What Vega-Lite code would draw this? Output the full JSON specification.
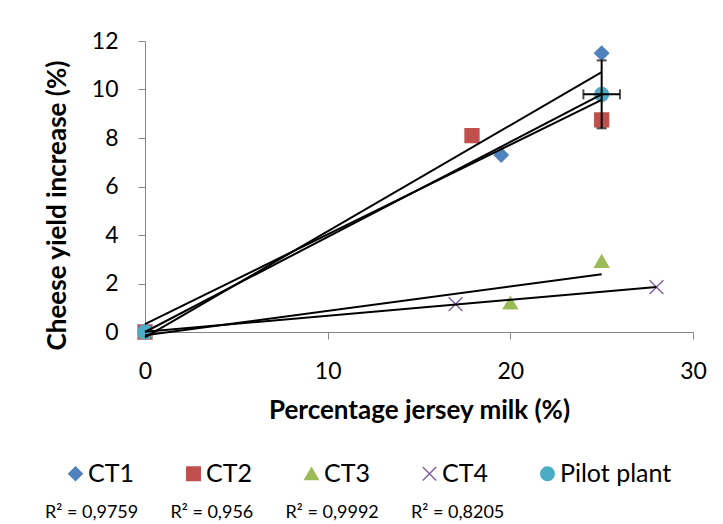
{
  "$schema": "https://vega.github.io/schema/vega-lite/v6.json",
  "width": 548,
  "height": 291,
  "autosize": "none",
  "padding": {"left": 145, "top": 41, "right": 30, "bottom": 192},
  "background": "white",
  "config": {
    "view": {"stroke": null},
    "font": "Lato",
    "axis": {
      "grid": false,
      "domainColor": "#868686",
      "tickColor": "#868686",
      "labelColor": "#000000",
      "titleColor": "#000000",
      "labelFont": "Lato",
      "titleFont": "Lato",
      "labelFontSize": 23,
      "titleFontSize": 26,
      "titleFontWeight": "bold",
      "tickSize": 7,
      "labelFlush": false
    }
  },
  "datasets": {
    "points": [
      {"series": "CT1", "x": 0, "y": 0},
      {"series": "CT1", "x": 19.5, "y": 7.3},
      {"series": "CT1", "x": 25, "y": 11.5},
      {"series": "CT2", "x": 0, "y": 0},
      {"series": "CT2", "x": 17.9, "y": 8.1},
      {"series": "CT2", "x": 25, "y": 8.75},
      {"series": "CT3", "x": 0, "y": 0},
      {"series": "CT3", "x": 20, "y": 1.2},
      {"series": "CT3", "x": 25, "y": 2.92},
      {"series": "CT4", "x": 0, "y": 0},
      {"series": "CT4", "x": 17, "y": 1.15},
      {"series": "CT4", "x": 28, "y": 1.85},
      {"series": "Pilot plant", "x": 0, "y": 0},
      {"series": "Pilot plant", "x": 25, "y": 9.8}
    ],
    "err": [
      {"x": 25, "y": 9.8, "ylo": 8.4, "yhi": 11.2, "xlo": 24, "xhi": 26}
    ]
  },
  "title": {
    "text": "R² = 0,9759\u00a0\u00a0\u00a0\u00a0\u00a0\u00a0\u00a0R² = 0,956\u00a0\u00a0\u00a0\u00a0\u00a0\u00a0\u00a0R² = 0,9992\u00a0\u00a0\u00a0\u00a0\u00a0\u00a0\u00a0R² = 0,8205",
    "orient": "bottom",
    "anchor": "start",
    "frame": "group",
    "dx": -100,
    "offset": 17,
    "font": "Lato",
    "fontSize": 18,
    "fontWeight": "normal",
    "color": "#000000"
  },
  "layer": [
    {
      "data": {"name": "points"},
      "mark": {"type": "point", "filled": true, "size": 190, "strokeWidth": 1.5, "opacity": 1},
      "encoding": {
        "x": {
          "field": "x", "type": "quantitative",
          "scale": {"domain": [0, 30], "padding": 0, "nice": false},
          "axis": {"values": [0, 10, 20, 30], "title": "Percentage jersey milk (%)", "labelPadding": 21, "titlePadding": 14}
        },
        "y": {
          "field": "y", "type": "quantitative",
          "scale": {"domain": [0, 12], "padding": 0, "nice": false},
          "axis": {"values": [0, 2, 4, 6, 8, 10, 12], "title": "Cheese yield increase (%)", "labelPadding": 20, "titlePadding": 21, "titleY": 164}
        },
        "color": {
          "field": "series", "type": "nominal",
          "scale": {"domain": ["CT1", "CT2", "CT3", "CT4", "Pilot plant"], "range": ["#4F81BD", "#C0504D", "#9BBB59", "#8064A2", "#4BACC6"]},
          "legend": {
            "title": null,
            "orient": "none",
            "legendX": -82,
            "legendY": 420,
            "direction": "horizontal",
            "columns": 5,
            "labelFont": "Lato",
            "labelFontSize": 25,
            "labelColor": "#000000",
            "labelOffset": 0,
            "columnPadding": 47,
            "symbolSize": 180,
            "symbolStrokeWidth": 1.5
          }
        },
        "stroke": {
          "field": "series", "type": "nominal",
          "scale": {"domain": ["CT1", "CT2", "CT3", "CT4", "Pilot plant"], "range": ["#4F81BD", "#C0504D", "#9BBB59", "#8064A2", "#4BACC6"]}
        },
        "shape": {
          "field": "series", "type": "nominal",
          "scale": {"domain": ["CT1", "CT2", "CT3", "CT4", "Pilot plant"], "range": ["diamond", "square", "triangle-up", "M-1,-1L1,1M1,-1L-1,1", "circle"]}
        }
      }
    },
    {
      "data": {"name": "points"},
      "transform": [{"regression": "y", "on": "x", "groupby": ["series"]}],
      "mark": {"type": "line", "color": "#000000", "strokeWidth": 2},
      "encoding": {
        "x": {"field": "x", "type": "quantitative"},
        "y": {"field": "y", "type": "quantitative"},
        "detail": {"field": "series", "type": "nominal"}
      }
    },
    {
      "data": {"name": "err"},
      "mark": {"type": "rule", "color": "#000000", "strokeWidth": 2},
      "encoding": {
        "x": {"field": "x", "type": "quantitative"},
        "y": {"field": "ylo", "type": "quantitative"},
        "y2": {"field": "yhi"}
      }
    },
    {
      "data": {"name": "err"},
      "mark": {"type": "rule", "color": "#000000", "strokeWidth": 2},
      "encoding": {
        "x": {"field": "xlo", "type": "quantitative"},
        "x2": {"field": "xhi"},
        "y": {"field": "y", "type": "quantitative"}
      }
    },
    {
      "data": {"name": "err"},
      "mark": {"type": "tick", "orient": "horizontal", "color": "#000000", "size": 10, "thickness": 2},
      "encoding": {
        "x": {"field": "x", "type": "quantitative"},
        "y": {"field": "ylo", "type": "quantitative"}
      }
    },
    {
      "data": {"name": "err"},
      "mark": {"type": "tick", "orient": "horizontal", "color": "#000000", "size": 10, "thickness": 2},
      "encoding": {
        "x": {"field": "x", "type": "quantitative"},
        "y": {"field": "yhi", "type": "quantitative"}
      }
    },
    {
      "data": {"name": "err"},
      "mark": {"type": "tick", "orient": "vertical", "color": "#000000", "size": 10, "thickness": 2},
      "encoding": {
        "x": {"field": "xlo", "type": "quantitative"},
        "y": {"field": "y", "type": "quantitative"}
      }
    },
    {
      "data": {"name": "err"},
      "mark": {"type": "tick", "orient": "vertical", "color": "#000000", "size": 10, "thickness": 2},
      "encoding": {
        "x": {"field": "xhi", "type": "quantitative"},
        "y": {"field": "y", "type": "quantitative"}
      }
    }
  ]
}
